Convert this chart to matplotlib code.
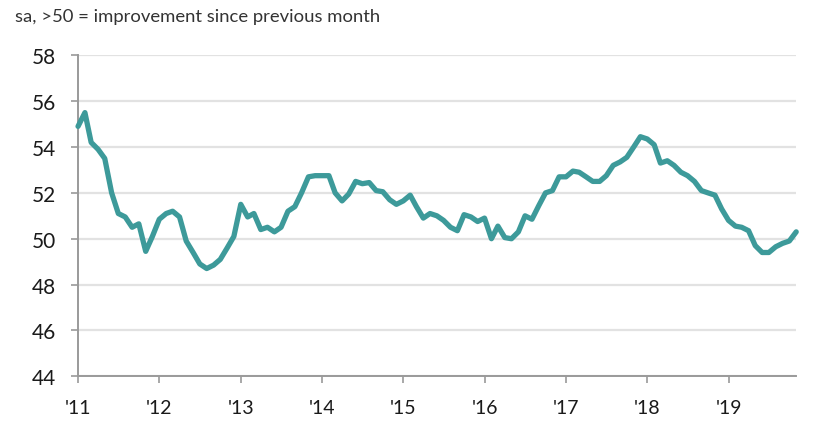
import matplotlib
matplotlib.use("Agg")
import matplotlib.pyplot as plt
import numpy as np
import pandas as pd

# Monthly values, Jan 2011 - Nov 2019
values_2011 = [54.9, 55.5, 54.2, 53.9, 53.5, 52.0, 51.1, 50.95, 50.5, 50.65, 49.45, 50.1]
values_2012 = [50.85, 51.1, 51.2, 50.95, 49.9, 49.4, 48.9, 48.7, 48.85, 49.1, 49.6, 50.1]
values_2013 = [51.5, 50.95, 51.1, 50.4, 50.5, 50.3, 50.5, 51.2, 51.4, 52.0, 52.7, 52.75]
values_2014 = [52.75, 52.75, 52.0, 51.65, 51.95, 52.5, 52.4, 52.45, 52.1, 52.05, 51.7, 51.5]
values_2015 = [51.65, 51.9, 51.4, 50.9, 51.1, 51.0, 50.8, 50.5, 50.35, 51.05, 50.95, 50.75]
values_2016 = [50.9, 50.0, 50.55, 50.05, 50.0, 50.3, 51.0, 50.85, 51.45, 52.0, 52.1, 52.7]
values_2017 = [52.7, 52.95, 52.9, 52.7, 52.5, 52.5, 52.75, 53.2, 53.35, 53.55, 54.0, 54.45]
values_2018 = [54.35, 54.1, 53.3, 53.4, 53.2, 52.9, 52.75, 52.5, 52.1, 52.0, 51.9, 51.3]
values_2019 = [50.8, 50.55, 50.5, 50.35, 49.7, 49.4, 49.4, 49.65, 49.8, 49.9, 50.3]

values = (values_2011 + values_2012 + values_2013 + values_2014 + values_2015 +
          values_2016 + values_2017 + values_2018 + values_2019)
dates = pd.date_range("2011-01-01", periods=len(values), freq="MS")

year_ticks = pd.date_range("2011-01-01", "2019-01-01", freq="YS")
year_labels = ["'11", "'12", "'13", "'14", "'15", "'16", "'17", "'18", "'19"]
y_ticks = [44, 46, 48, 50, 52, 54, 56, 58]

title_text = "sa, >50 = improvement since previous month"

plt.rcParams['font.family'] = ['Lato', 'DejaVu Sans']

fig = plt.figure(figsize=(8.39, 4.35), dpi=100)
ax = fig.add_axes([0.093, 0.1326, 0.856, 0.738])

ax.plot(dates, values, color="#3d9a9a", linewidth=3.8, solid_capstyle="round",
        solid_joinstyle="round", zorder=3, clip_on=False)

ax.set_ylim(44, 58)
ax.set_xlim(dates[0], dates[-1])
ax.set_yticks(y_ticks)
ax.set_yticklabels([str(t) for t in y_ticks])
ax.set_xticks(year_ticks)
ax.set_xticklabels(year_labels)

ax.grid(axis="y", color="#e2e2e2", linewidth=1.6, zorder=0)
ax.set_axisbelow(True)

for s in ["top", "right"]:
    ax.spines[s].set_visible(False)
for s in ["left", "bottom"]:
    ax.spines[s].set_color("#9a9a9a")
    ax.spines[s].set_linewidth(1.4)

ax.tick_params(axis="y", length=5, width=1.2, color="#9a9a9a", pad=11,
               labelsize=15, labelcolor="#1a1a1a")
ax.tick_params(axis="x", length=5, width=1.2, color="#9a9a9a", pad=11,
               labelsize=14, labelcolor="#1a1a1a")

fig.text(0.018, 0.962, title_text, fontsize=13.3, color="#333333",
         ha="left", va="center")

fig.savefig("out.png", dpi=100)
